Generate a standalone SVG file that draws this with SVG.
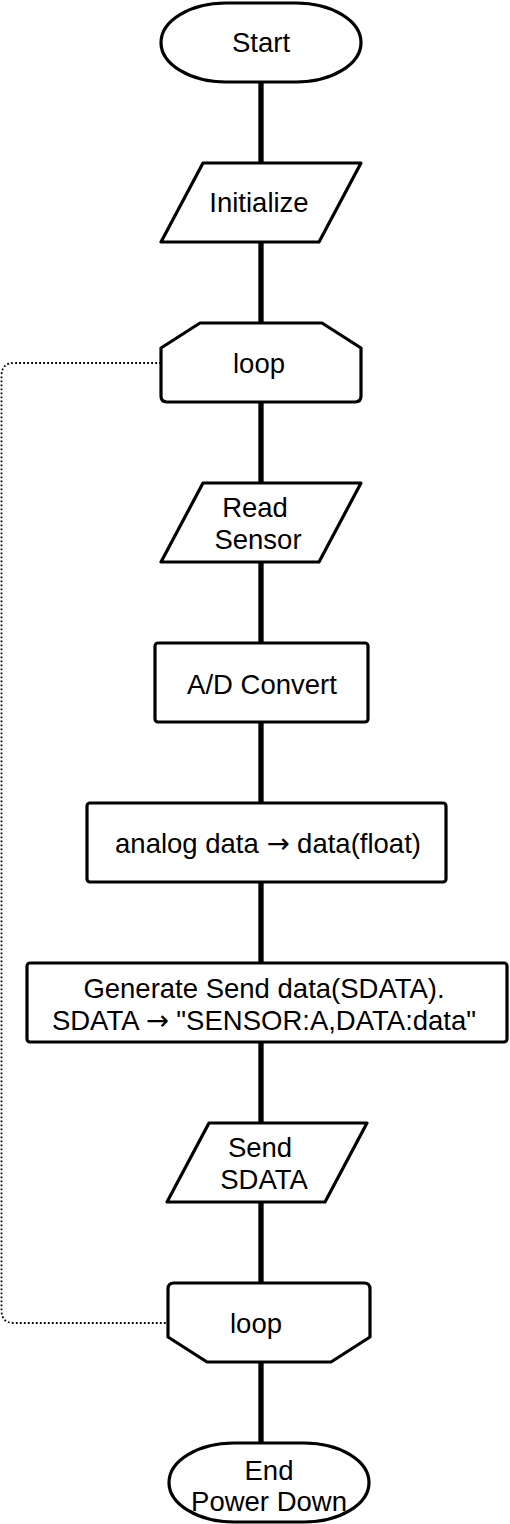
<svg xmlns="http://www.w3.org/2000/svg" width="510" height="1524" viewBox="0 0 510 1524">
<style>
.s{fill:#fff;stroke:#000;stroke-width:3.2;stroke-linejoin:round}
.c{stroke:#000;stroke-width:5.3;fill:none}
.d{stroke:#000;stroke-width:1.8;fill:none;stroke-dasharray:1.8 2.2}
text{font-family:"Liberation Sans",Arial,Helvetica,sans-serif;font-size:27.5px;fill:#000;text-anchor:middle}
.a{font-family:"DejaVu Sans","Liberation Sans",sans-serif}
</style>
<rect width="510" height="1524" fill="#fff"/>
<g id="connectors">
<line class="c" x1="261" y1="82" x2="261" y2="163"/>
<line class="c" x1="261" y1="242" x2="261" y2="323"/>
<line class="c" x1="261" y1="402" x2="261" y2="483"/>
<line class="c" x1="261" y1="562" x2="261" y2="643"/>
<line class="c" x1="261" y1="722" x2="261" y2="803"/>
<line class="c" x1="261" y1="882" x2="261" y2="963"/>
<line class="c" x1="261" y1="1042" x2="261" y2="1123"/>
<line class="c" x1="261" y1="1202" x2="261" y2="1283"/>
<line class="c" x1="261" y1="1362" x2="261" y2="1443"/>
<path class="d" d="M161 363 H14 Q1.5 363 1.5 376 V1310 Q1.5 1323 14 1323 H168"/>
</g>
<g id="start">
<rect class="s" x="161" y="3" width="200" height="79" rx="65" ry="39.5"/>
<text x="261" y="52">Start</text>
</g>
<g id="initialize">
<path class="s" d="M203 163 H361 L319 242 H161 Z"/>
<text x="259" y="212">Initialize</text>
</g>
<g id="loop-start">
<path class="s" d="M161 348 L200 323 H322 L361 348 V396 Q361 402 355 402 H167 Q161 402 161 396 Z"/>
<text x="259" y="373">loop</text>
</g>
<g id="read-sensor">
<path class="s" d="M203 483 H361 L319 562 H161 Z"/>
<text x="255" y="517">Read</text>
<text x="258" y="549">Sensor</text>
</g>
<g id="ad-convert">
<rect class="s" x="155" y="643" width="213" height="79" rx="3"/>
<text x="262" y="694">A/D Convert</text>
</g>
<g id="analog">
<rect class="s" x="87" y="803" width="359" height="79" rx="3"/>
<text x="268" y="853">analog data <tspan class="a">→</tspan> data(float)</text>
</g>
<g id="generate">
<rect class="s" x="27" y="963" width="480" height="79" rx="3"/>
<text x="264" y="998">Generate Send data(SDATA).</text>
<text x="264" y="1030">SDATA <tspan class="a">→</tspan> "SENSOR:A,DATA:data"</text>
</g>
<g id="send">
<path class="s" d="M209 1123 H367 L325 1202 H167 Z"/>
<text x="260" y="1157">Send</text>
<text x="264" y="1189">SDATA</text>
</g>
<g id="loop-end">
<path class="s" d="M168 1289 Q168 1283 174 1283 H364 Q370 1283 370 1289 V1337 L331 1362 H207 L168 1337 Z"/>
<text x="256" y="1333">loop</text>
</g>
<g id="end">
<rect class="s" x="169" y="1443" width="200" height="79" rx="65" ry="39.5"/>
<text x="269" y="1480">End</text>
<text x="269" y="1511">Power Down</text>
</g>
</svg>
